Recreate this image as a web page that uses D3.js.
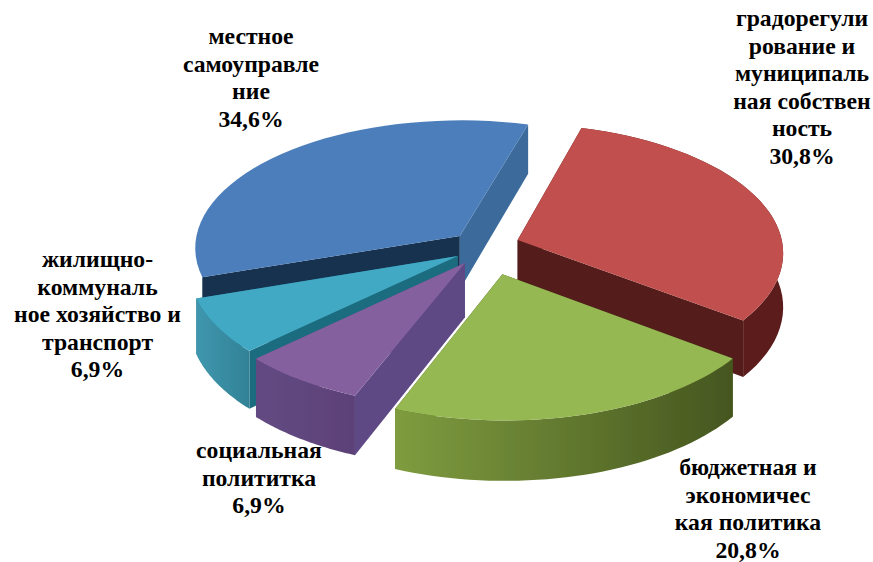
<!DOCTYPE html>
<html>
<head>
<meta charset="utf-8">
<script src="https://cdn.jsdelivr.net/npm/d3@7"></script>
<style>
  html, body { margin: 0; padding: 0; background: #fff; }
  text { font-family: "Liberation Serif", serif; font-weight: bold; fill: #000; }
</style>
</head>
<body>
<div id="chart"></div>
<script>
// data
const categories = ["градорегулирование и муниципальная собственность",
                    "бюджетная и экономическая политика",
                    "социальная полититка",
                    "жилищно-коммунальное хозяйство и транспорт",
                    "местное самоуправление"];
const values = [30.8, 20.8, 6.9, 6.9, 34.6];
const labelLines = [
    ["градорегули", "рование и", "муниципаль", "ная собствен", "ность"],
    ["бюджетная и", "экономичес", "кая политика"],
    ["социальная", "полититка"],
    ["жилищно-", "коммуналь", "ное хозяйство и", "транспорт"],
    ["местное", "самоуправле", "ние"]
];

let dim = { "width": 873, "height": 562 };

// how far each slice is pulled out of the pie, as [right, toward viewer]
const explode = [[0.15, -0.078], [0.09, 0.185], [-0.049, 0.1], [-0.076, 0.047], [-0.069, -0.11]];
const topColor = ["#c0504d", "#96b853", "#85619f", "#43a9c5", "#4b7ebb"];
const rimColor = [["#5c1c1a", "#6a1f1d"], ["#7f9c3f", "#45561f"], ["#634a82", "#5c4178"], ["#3f97ae", "#328296"], null];
const startWall = ["#521f1d", "#45561f", "#5f4a85", "#1c6c80", "#16304f"]; // wall at slice start angle
const endWall = ["#551e1c", "#45561f", "#5f4a85", "#1c6c80", "#3a6b9b"];   // wall at slice end angle
const drawOrder = [4, 0, 3, 2, 1];
const labelPos = [[802, 26], [748, 475], [259, 458], [97.5, 267], [251, 44]];

const cx = 478, cy = 250, tilt = 0.483, persp = 0.09, depth = 54;

let scaleR = d3.scaleLinear().domain([0, 1]).range([0, 266]);

let svg = d3.select("#chart")
            .append("svg")
            .attr("width", dim.width)
            .attr("height", dim.height)
            .style("display", "block");

let defs = svg.append("defs");
defs.append("filter").attr("id", "soft")
    .append("feGaussianBlur").attr("stdDeviation", 0.6);

let pie = d3.pie()
            .sort(null)
            .startAngle(16 * Math.PI / 180)
            .endAngle(376 * Math.PI / 180);
let arcs = pie(values);

function project(u, v, z) {
    let s = 1 / (1 - persp * v);
    return [cx + scaleR(u) * s, cy + scaleR(v) * tilt * s + depth * z * s];
}

let line = d3.line();

let g = svg.append("g").attr("filter", "url(#soft)");

drawOrder.forEach(function(i) {
    let d = arcs[i];
    let ou = explode[i][0];
    let ov = explode[i][1];
    let angles = d3.range(0, 41).map(k => d.startAngle + (d.endAngle - d.startAngle) * k / 40);
    let rim = z => angles.map(a => project(ou + Math.sin(a), ov - Math.cos(a), z));
    let apex = z => project(ou, ov, z);

    let slice = g.append("g").attr("class", "slice");

    // radial walls
    slice.append("path")
         .attr("d", line([apex(0), rim(0)[0], rim(1)[0], apex(1)]) + "Z")
         .attr("fill", startWall[i]);
    slice.append("path")
         .attr("d", line([apex(0), rim(0)[40], rim(1)[40], apex(1)]) + "Z")
         .attr("fill", endWall[i]);

    // outer wall, the big blue slice shows none
    if (rimColor[i]) {
        let grad = defs.append("linearGradient")
                       .attr("id", "rim" + i)
                       .attr("gradientUnits", "userSpaceOnUse")
                       .attr("x1", rim(0)[40][0]).attr("x2", rim(0)[0][0])
                       .attr("y1", 0).attr("y2", 0);
        grad.append("stop").attr("offset", 0).attr("stop-color", rimColor[i][0]);
        grad.append("stop").attr("offset", 1).attr("stop-color", rimColor[i][1]);
        slice.append("path")
             .attr("d", line(rim(0).concat(rim(1).reverse())) + "Z")
             .attr("fill", `url(#rim${i})`);
    }

    // top
    slice.append("path")
         .attr("d", line([apex(0)].concat(rim(0))) + "Z")
         .attr("fill", topColor[i]);
});

// labels
let labels = svg.append("g");
labelLines.forEach(function(lines, i) {
    let t = labels.append("text")
                  .attr("text-anchor", "middle")
                  .attr("x", labelPos[i][0])
                  .attr("y", labelPos[i][1])
                  .attr("font-size", 23.7);
    lines.concat(String(values[i]).replace(".", ",") + "%").forEach(function(l, k) {
        t.append("tspan")
         .attr("x", labelPos[i][0])
         .attr("dy", k == 0 ? 0 : 27.6)
         .text(l);
    });
});
</script>
</body>
</html>
